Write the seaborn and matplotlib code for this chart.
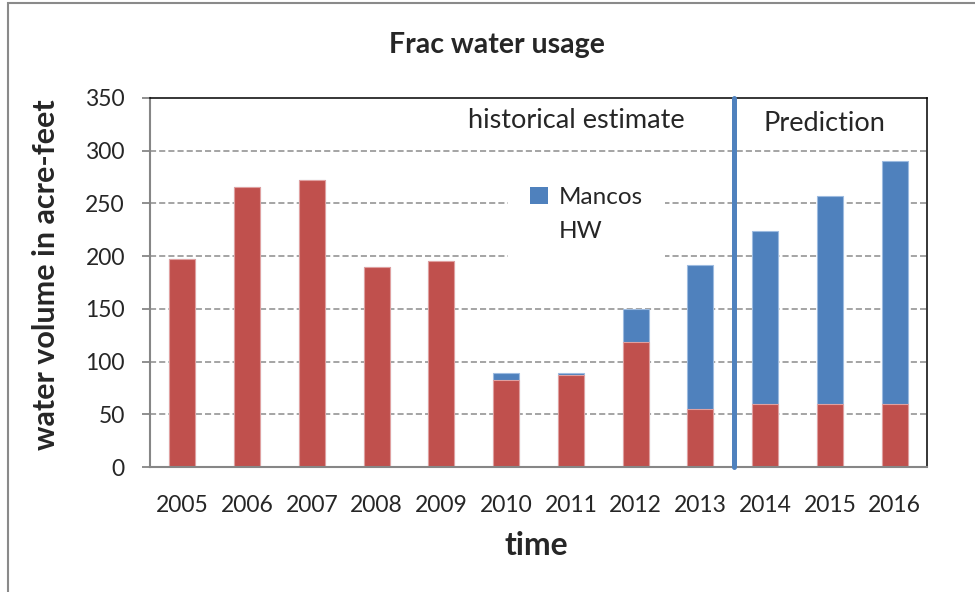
import pandas as pd
import seaborn as sns
import matplotlib.pyplot as plt
from matplotlib.patches import Patch, Rectangle
from matplotlib.ticker import MultipleLocator

years = ['2005', '2006', '2007', '2008', '2009', '2010', '2011', '2012', '2013', '2014', '2015', '2016']
hw = [197, 266, 272, 190, 195, 83, 87, 119, 55, 60, 60, 60]
mancos = [0, 0, 0, 0, 0, 6, 2, 31, 137, 164, 197, 230]

df = pd.DataFrame({'year': years, 'HW': hw, 'Mancos': mancos})
df['total'] = df['HW'] + df['Mancos']

red = '#C0504D'
blue = '#4F81BD'

sns.set_style('white')
plt.rcParams['font.family'] = ['Lato', 'DejaVu Sans']

fig = plt.figure(figsize=(9.75, 5.92), dpi=100)
ax = fig.add_axes([0.1538, 0.2111, 0.797, 0.6234])

# stacked bars: total in blue, HW drawn over it in red
sns.barplot(data=df, x='year', y='total', color=blue, width=0.4, saturation=1,
            edgecolor='#9dbbe0', linewidth=0.8, ax=ax)
sns.barplot(data=df, x='year', y='HW', color=red, width=0.4, saturation=1,
            edgecolor='#e0a0a0', linewidth=0.8, ax=ax)

ax.set_xlim(-0.5, 11.5)
ax.set_ylim(0, 350)
ax.yaxis.set_major_locator(MultipleLocator(50))

for v in range(50, 350, 50):
    ax.axhline(v, color='#8c8c8c', lw=1.1, ls=(0, (4, 2)), zorder=0)

# divider between history and prediction
ax.plot([8.52, 8.52], [0, 350], color=blue, lw=3.6, zorder=5, clip_on=False)

ax.text(6.08, 329, 'historical estimate', fontsize=19.5, ha='center', va='center')
ax.text(9.91, 326, 'Prediction', fontsize=19.5, ha='center', va='center')

handles = [Patch(facecolor=blue, edgecolor='none'),
           Patch(facecolor='none', edgecolor='none')]
leg = ax.legend(handles, ['Mancos', 'HW'], loc='upper left',
                bbox_to_anchor=(0.461, 0.819), frameon=True, fontsize=17.5,
                handlelength=0.75, handleheight=0.75, handletextpad=0.45,
                labelspacing=0.5, borderpad=0.9, borderaxespad=0)
leg.get_frame().set_facecolor('white')
leg.get_frame().set_edgecolor('none')
leg.get_frame().set_alpha(1)
leg.set_zorder(4)

for s in ['top', 'right']:
    ax.spines[s].set_color('black')
    ax.spines[s].set_linewidth(1.1)
for s in ['left', 'bottom']:
    ax.spines[s].set_color('#868686')
    ax.spines[s].set_linewidth(1.5)

ax.set_xticks(range(len(years)))
ax.set_xticklabels(years)
ax.set_xticks([i - 0.5 for i in range(len(years) + 1)], minor=True)
ax.tick_params(axis='x', which='major', length=0, labelsize=16.5, pad=20)
ax.tick_params(axis='x', which='minor', length=6, width=1.3, color='#868686', direction='out')
ax.tick_params(axis='y', length=6, width=1.3, color='#868686', direction='out', left=True,
               labelsize=16.5, pad=12)

ax.set_xlabel('')
ax.set_ylabel('')
fig.text(0.51, 0.924, 'Frac water usage', fontsize=20.5, fontweight='bold', ha='center', va='center')
fig.text(0.55, 0.079, 'time', fontsize=23, fontweight='bold', ha='center', va='center')
fig.text(0.047, 0.536, 'water volume in acre-feet', fontsize=22, fontweight='bold',
         rotation=90, ha='center', va='center')

fig.add_artist(Rectangle((8 / 975, -0.1), 1.2, 1.1 - 3 / 592, transform=fig.transFigure,
                         fill=False, edgecolor='#8a8a8a', lw=1.5))

fig.savefig('out.png', dpi=100)
